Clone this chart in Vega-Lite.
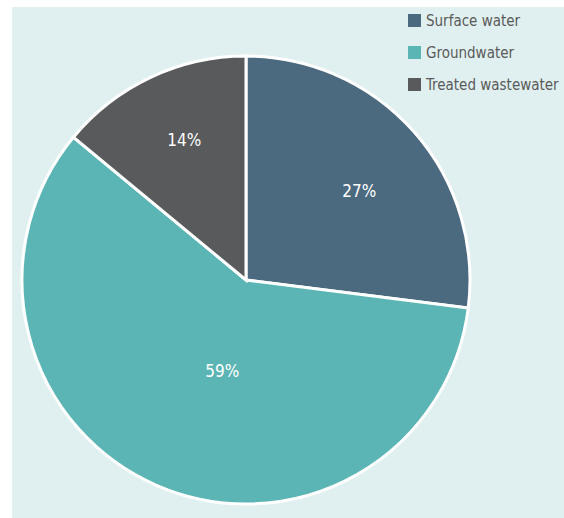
{
  "$schema": "https://vega.github.io/schema/vega-lite/v6.json",
  "width": 552,
  "height": 511,
  "autosize": {"type": "none"},
  "padding": {"left": 12, "top": 7, "right": 0, "bottom": 0},
  "background": "white",
  "view": {"fill": "#e0f0f0", "stroke": null},
  "config": {
    "view": {"fill": "#e0f0f0", "stroke": null},
    "font": "DejaVu Sans Condensed, Liberation Sans Narrow, sans-serif"
  },
  "data": {
    "values": [
      {"source": "Surface water", "share": 27, "label": "27%", "order": 1},
      {"source": "Groundwater", "share": 59, "label": "59%", "order": 2},
      {"source": "Treated wastewater", "share": 14, "label": "14%", "order": 3}
    ]
  },
  "encoding": {
    "theta": {"field": "share", "type": "quantitative", "stack": true},
    "order": {"field": "order", "type": "quantitative"},
    "color": {
      "field": "source",
      "type": "nominal",
      "scale": {
        "domain": ["Surface water", "Groundwater", "Treated wastewater"],
        "range": ["#4b6a7f", "#5bb5b4", "#585a5b"]
      },
      "legend": {
        "title": null,
        "orient": "none",
        "legendX": 395,
        "legendY": 6,
        "symbolType": "square",
        "symbolSize": 169,
        "symbolStrokeWidth": 0,
        "labelFontSize": 15,
        "labelColor": "#5a5a5a",
        "labelOffset": 4,
        "rowPadding": 16,
        "padding": 0,
        "labelLimit": 300
      }
    }
  },
  "layer": [
    {
      "mark": {"type": "arc", "x": 234, "y": 273, "outerRadius": 224, "stroke": "white", "strokeWidth": 3}
    },
    {
      "mark": {"type": "text", "x": 234, "y": 273, "radius": 143, "dx": 6, "dy": 7, "fontSize": 17, "baseline": "middle", "align": "center"},
      "encoding": {
        "text": {"condition": {"test": "datum.source == 'Surface water'", "field": "label"}, "value": ""},
        "color": {"value": "white"}
      }
    },
    {
      "mark": {"type": "text", "x": 234, "y": 273, "radius": 95, "dx": 14, "dy": 5, "fontSize": 17, "baseline": "middle", "align": "center"},
      "encoding": {
        "text": {"condition": {"test": "datum.source == 'Groundwater'", "field": "label"}, "value": ""},
        "color": {"value": "white"}
      }
    },
    {
      "mark": {"type": "text", "x": 234, "y": 273, "radius": 152, "dx": 3, "dy": -1, "fontSize": 17, "baseline": "middle", "align": "center"},
      "encoding": {
        "text": {"condition": {"test": "datum.source == 'Treated wastewater'", "field": "label"}, "value": ""},
        "color": {"value": "white"}
      }
    }
  ]
}
